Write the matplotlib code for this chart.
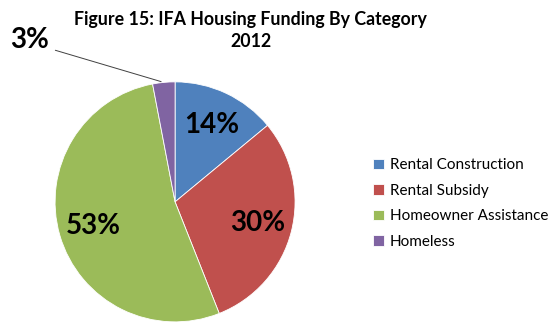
import numpy as np
import matplotlib
matplotlib.use('Agg')
import matplotlib.pyplot as plt

# Housing funding shares by category, 2012
categories = ['Rental Construction', 'Rental Subsidy', 'Homeowner Assistance', 'Homeless']
shares = [14, 30, 53, 3]
colors = ['#4F81BD', '#C0504D', '#9BBB59', '#8064A2']

plt.rcParams['font.family'] = ['Lato', 'DejaVu Sans']

fig = plt.figure(figsize=(5.57, 3.23), dpi=100)
ax = fig.add_axes([0.0988, 0.0035, 0.431, 0.743])

wedges, texts, autotexts = ax.pie(
    shares, colors=colors, startangle=90, counterclock=False,
    radius=1, autopct=lambda p: '%.0f%%' % p, pctdistance=0.71,
    wedgeprops=dict(edgecolor='white', linewidth=0.6),
    textprops=dict(fontsize=20, fontweight='bold', color='black'))
ax.set_xlim(-1, 1)
ax.set_ylim(-1, 1)
ax.set_aspect('equal')

# the small slice gets its label outside with a leader line
small = wedges[3]
autotexts[3].set_visible(False)
mid = np.deg2rad((small.theta1 + small.theta2) / 2)
edge = (np.cos(mid), np.sin(mid))
ax.annotate('', xy=edge, xytext=(-1.02, 1.27),
            arrowprops=dict(arrowstyle='-', color='#404040', lw=0.7),
            annotation_clip=False)
ax.text(-1.05, 1.35, '%d%%' % shares[3], ha='right', va='center',
        fontsize=20, fontweight='bold', clip_on=False)

fig.text(0.45, 0.905, 'Figure 15: IFA Housing Funding By Category\n2012',
         ha='center', va='center', fontsize=12.8, fontweight='bold',
         linespacing=1.4)

fig.legend(wedges, categories, loc='center left', bbox_to_anchor=(0.645, 0.37),
           frameon=False, fontsize=11, handlelength=0.7, handleheight=0.7,
           handletextpad=0.4, labelspacing=0.75)

fig.savefig('out.png', dpi=100)
